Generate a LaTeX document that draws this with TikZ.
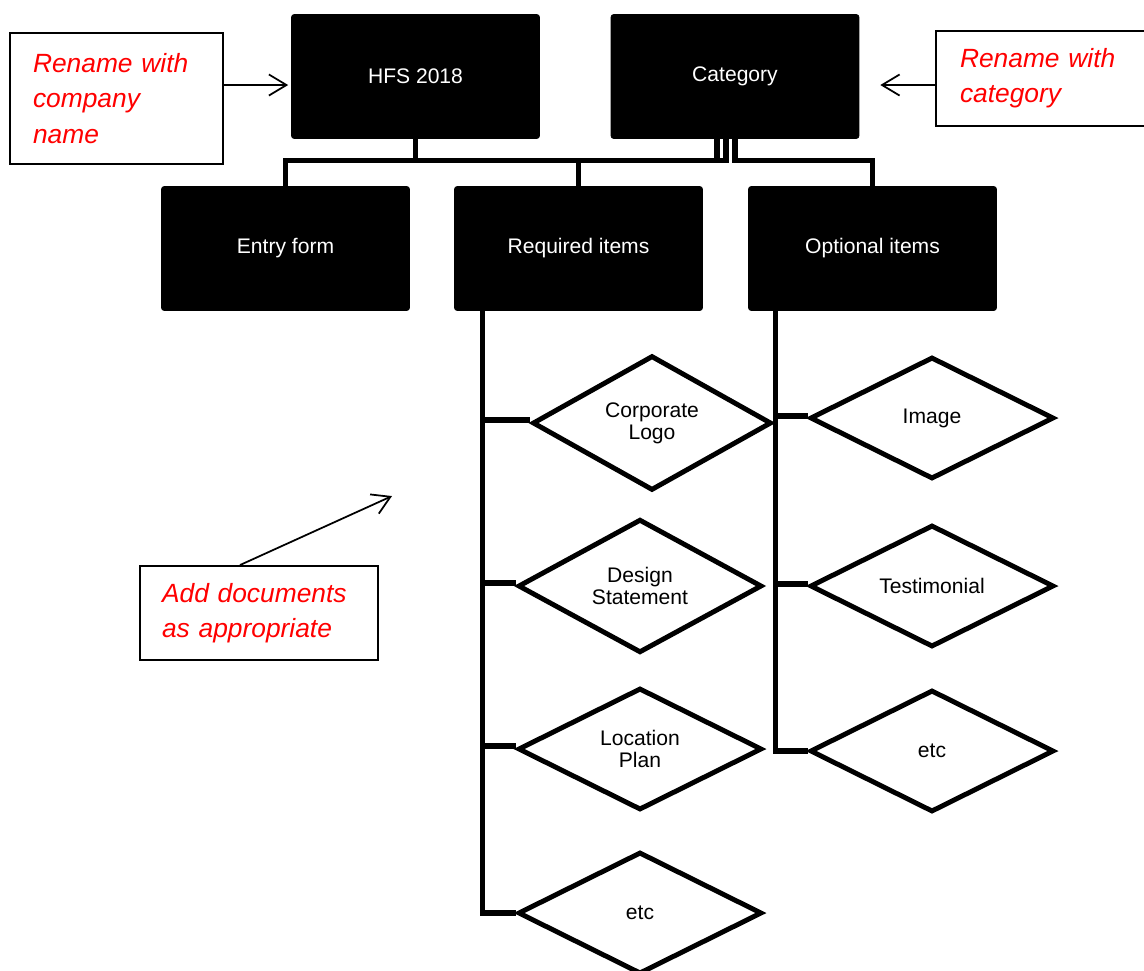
\documentclass[tikz,border=0pt]{standalone}
\usepackage{fontspec}
\setmainfont{Liberation Sans}
\usetikzlibrary{shapes.geometric,arrows.meta,calc}

\begin{document}
\begin{tikzpicture}[x=0.02cm,y=-0.02cm,
	block/.style={draw=black,fill=black,rounded corners=1.5pt,minimum width=4.96cm,minimum height=2.48cm,text=white,font=\fontsize{12}{14}\selectfont},
	item/.style={diamond,draw,line width=2.8pt,minimum width=4.88cm,minimum height=2.44cm,inner sep=0pt,align=center,font=\fontsize{12}{12.5}\selectfont},
	link/.style={line width=2.9pt},
	memo/.style={draw,line width=1.1pt,text=red,align=left,font=\fontsize{15}{20}\selectfont\itshape},
	pointer/.style={line width=1pt,-{Straight Barb[length=10pt,width=12pt]}}]
		\useasboundingbox (0,0) rectangle (1144,971);
		% 上段・中段のボックス
		\node[block] (hfs) at (415.5,76.5) {HFS 2018};
		\node[block] (category) at (735,76.5) {Category};
		\node[block] (entry) at (285.5,248.5) {Entry form};
		\node[block] (required) at (578.5,248.5) {Required items};
		\node[block] (optional) at (872.5,248.5) {Optional items};
		% 書類(ひし形)
		\node[item,minimum width=4.78cm,minimum height=2.52cm] (logo) at (652,423) {Corporate\\Logo};
		\node[item] (design) at (640,586) {Design\\Statement};
		\node[item] (location) at (640,749) {Location\\Plan};
		\node[item] (etcA) at (640,913) {etc};
		\node[item] (image) at (932,418) {Image};
		\node[item] (testimonial) at (932,586) {Testimonial};
		\node[item] (etcB) at (932,751) {etc};
		% メモ
		\node[memo,text width=3.34cm,inner xsep=0.46cm,minimum height=2.62cm] (notecompany) at (116.5,98.5) {Rename with\\company\\name};
		\node[memo,text width=3.32cm,inner xsep=0.48cm,minimum height=1.9cm] (notecategory) at (1043,78.5) {Rename with\\category};
		\node[memo,text width=3.88cm,inner xsep=0.44cm,minimum height=1.88cm] (notedocs) at (259,613) {Add documents\\as appropriate};
		% 接続線
		\coordinate (bus) at (0,160);
		\draw[link] (hfs.south) -- (hfs.south |- bus);
		\draw[link] (entry.north) |- ($(category.south)+(-9,22)$) -- ($(category.south)+(-9,0)$);
		\draw[link] ($(category.south)+(-18,0)$) -- ++(0,22);
		\draw[link] (required.north) -- (required.north |- bus);
		\draw[link] (category.south) -- ++(0,22) -| (optional.north);
		\coordinate (spineA) at ($(required.south west)+(28,0)$);
		\draw[link] (spineA) |- (etcA.west);
		\foreach \n in {logo,design,location}
			\draw[link] ($(\n.west)+(0,-3)$) -- ($(\n.west -| spineA)+(0,-3)$);
		\coordinate (spineB) at ($(optional.south west)+(27,0)$);
		\draw[link] (spineB) |- (etcB.west);
		\foreach \n in {image,testimonial}
			\draw[link] ($(\n.west)+(0,-2)$) -- ($(\n.west -| spineB)+(0,-2)$);
		% 矢印
		\draw[pointer] ($(notecompany.east)+(0,-13.5)$) -- ($(hfs.west)+(-3,8.5)$);
		\draw[pointer] ($(notecategory.west)+(0,6.5)$) -- ($(category.east)+(21,8.5)$);
		\draw[pointer] ($(notedocs.north)+(-19,0)$) -- ++(152,-69);
	\end{tikzpicture}
\end{document}
